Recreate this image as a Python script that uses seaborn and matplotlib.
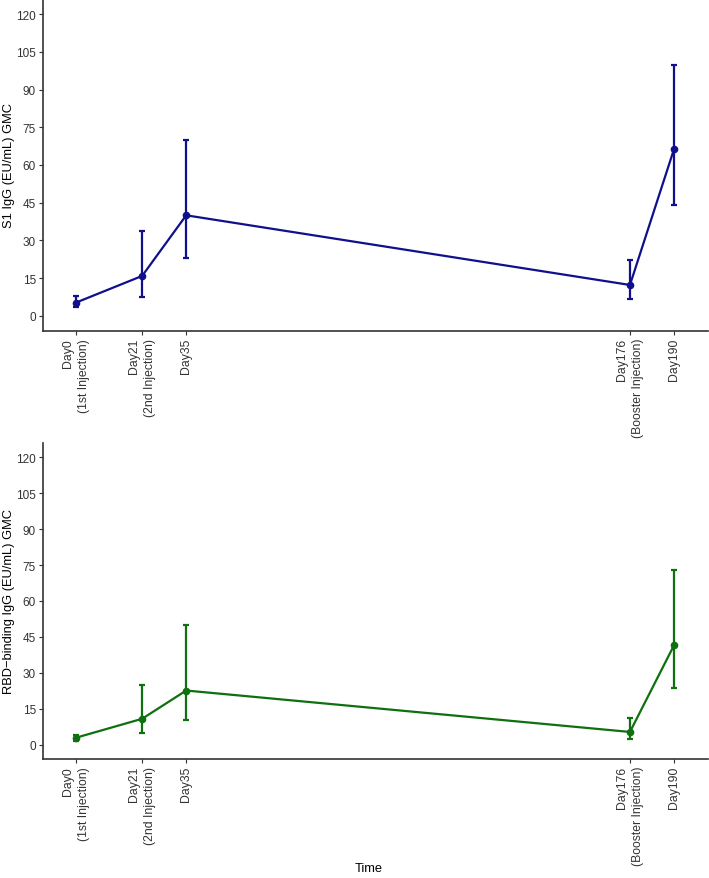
import matplotlib
matplotlib.use("Agg")
import matplotlib.pyplot as plt
import seaborn as sns
import pandas as pd

sns.set_theme(style="white")
plt.rcParams['font.family'] = ['Liberation Sans', 'DejaVu Sans']

days = [0, 21, 35, 176, 190]
tick_labels = ["Day0\n(1st Injection)", "Day21\n(2nd Injection)", "Day35",
               "Day176\n(Booster Injection)", "Day190"]

s1_gmc = [5.3, 15.9, 40.0, 12.3, 66.3]
s1_low = [3.4, 7.7, 23.0, 6.8, 44.2]
s1_high = [8.0, 33.6, 70.0, 22.2, 99.8]

rbd_gmc = [2.9, 10.8, 22.6, 5.3, 41.5]
rbd_low = [1.7, 5.0, 10.3, 2.5, 23.7]
rbd_high = [4.2, 24.8, 50.1, 11.1, 73.0]

y_ticks = [0, 15, 30, 45, 60, 75, 90, 105, 120]

fig = plt.figure(figsize=(7.09, 8.79), dpi=100)
ax1 = fig.add_axes([43/709, 1 - 332/879, 665/709, 332/879])
ax2 = fig.add_axes([43/709, 1 - 760/879, 665/709, 316/879])

panels = [
    (ax1, s1_gmc, s1_low, s1_high, "#10108c", "S1 IgG (EU/mL) GMC", ""),
    (ax2, rbd_gmc, rbd_low, rbd_high, "#0e700e", "RBD\u2212binding IgG (EU/mL) GMC", "Time"),
]

for ax, gmc, low, high, col, ylab, xlab in panels:
    df = pd.DataFrame({"day": days, "gmc": gmc})
    sns.lineplot(data=df, x="day", y="gmc", ax=ax, color=col, linewidth=1.6,
                 marker="o", markersize=5.5, markeredgewidth=0)
    yerr = [[g - l for g, l in zip(gmc, low)], [h - g for g, h in zip(gmc, high)]]
    ax.errorbar(days, gmc, yerr=yerr, fmt="none", ecolor=col, elinewidth=1.6,
                capsize=2.5, capthick=1.6)
    ax.set_xlim(-10.5, 200.8)
    ax.set_ylim(-6, 126)
    ax.set_yticks(y_ticks)
    ax.set_yticklabels([str(t) for t in y_ticks], fontsize=8.5, color="#333333")
    ax.set_xticks(days)
    ax.set_xticklabels(tick_labels, rotation=90, fontsize=8.8, color="#333333",
                       ha="center", va="top", multialignment="right",
                       linespacing=1.45)
    ax.set_ylabel(ylab, fontsize=9.3, color="black")
    ax.yaxis.set_label_coords(-0.042, 0.5)
    ax.set_xlabel(xlab, fontsize=9.3, color="black")
    ax.xaxis.set_label_coords(0.49, -0.326)
    for s in ["top", "right"]:
        ax.spines[s].set_visible(False)
    for s in ["left", "bottom"]:
        ax.spines[s].set_color("#333333")
        ax.spines[s].set_linewidth(1.2)
    ax.tick_params(axis="both", which="both", length=3, width=0.8, color="#333333",
                   pad=2, left=True, bottom=True)
    ax.grid(False)

fig.savefig("out.png", dpi=100)
